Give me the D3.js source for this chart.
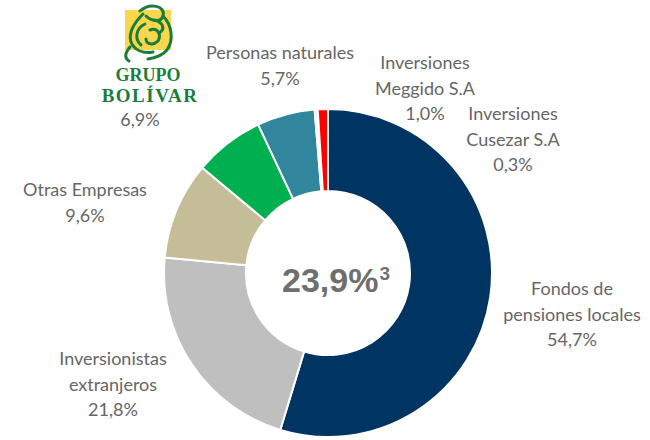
<!DOCTYPE html>
<meta charset="utf-8">
<html>
  <head>
    <title>Accionistas</title>
    <script src="https://d3js.org/d3.v7.min.js"></script>
    <style>
      body { margin: 0; background: #fff; }
      .lbl { font-family: Lato, "Open Sans", sans-serif; font-size: 18px; fill: #666; }
    </style>
  </head>
  <body>
    <div id="chart"></div>
    <script type="text/javascript">

        // shareholders, clockwise from 12 o'clock
        var holders = ["Fondos de pensiones locales", "Inversionistas extranjeros", "Otras Empresas",
                       "Grupo Bolívar", "Personas naturales", "Inversiones Cusezar S.A", "Inversiones Meggido S.A"];
        var shares = [54.7, 21.8, 9.6, 6.9, 5.7, 0.3, 1.0];
        var shareText = ["54,7%", "21,8%", "9,6%", "6,9%", "5,7%", "0,3%", "1,0%"];
        var labelLines = [["Fondos de", "pensiones locales"], ["Inversionistas", "extranjeros"], ["Otras Empresas"],
                          [], ["Personas naturales"], ["Inversiones", "Cusezar S.A"], ["Inversiones", "Meggido S.A"]];
        var centerText = "23,9%";

        var colors = ["#003462", "#bfbfbf", "#c4bd97", "#00b050", "#31859c", "#eef2f7", "#ff0000"];

        var width = 650, height = 440,
            cx = 328, cy = 273,
            r_out = 164, r_in = 82,
            line_h = 25.5;

        // where each label block starts (first baseline), text centred
        var label_pos = [[572, 295], [113, 365], [85, 196], [140, 126], [280, 59], [513, 120], [425, 69]];

        var svg = d3.select("#chart").append("svg")
            .attr("width", width)
            .attr("height", height);

        var color_scale = d3.scaleOrdinal().domain(holders).range(colors);

        var pie = d3.pie()
            .value(function(d){ return d.v; })
            .sort(null);

        var arc = d3.arc()
            .innerRadius(r_in)
            .outerRadius(r_out);

        var data = holders.map(function(h, i){ return {name: h, v: shares[i], i: i}; });

        var g = svg.append("g")
            .attr("transform", "translate(" + cx + "," + cy + ")");

        g.selectAll("path")
            .data(pie(data))
            .enter().append("path")
            .attr("d", arc)
            .attr("fill", function(d){ return color_scale(d.data.name); })
            .attr("stroke", "#fff")
            .attr("stroke-width", 2)
            .attr("stroke-linejoin", "round");

        // centre figure
        var ct = g.append("text")
            .attr("text-anchor", "middle")
            .attr("y", 19)
            .attr("x", 8)
            .style("font-family", "'Liberation Sans', Arial, sans-serif")
            .style("font-weight", "bold")
            .style("font-size", "34px")
            .style("fill", "#6f6f6f");
        ct.append("tspan").text(centerText);
        ct.append("tspan").attr("dx", 1).attr("dy", -12).style("font-size", "19px").text("3");

        // labels
        data.forEach(function(d, i){
            var lines = labelLines[i].concat([shareText[i]]);
            var t = svg.append("text")
                .attr("class", "lbl")
                .attr("text-anchor", "middle")
                .attr("x", label_pos[i][0])
                .attr("y", label_pos[i][1]);
            lines.forEach(function(s, j){
                t.append("tspan")
                    .attr("x", label_pos[i][0])
                    .attr("dy", j == 0 ? 0 : line_h)
                    .text(s);
            });
        });

        // Grupo Bolivar logo
        var logo = svg.append("g").attr("transform", "translate(148,0)");
        logo.append("rect")
            .attr("x", -23).attr("y", 10)
            .attr("width", 46).attr("height", 40)
            .attr("fill", "#f8d64e");
        var green = "#1b7d3a";
        var strokes = [
            "M-8,11 C2,2 18,6 15,16 C13,23 3,21 -2,16",
            "M-5,14 C-13,22 -20,32 -17,42 C-14,50 -5,54 5,52",
            "M15,16 C24,25 26,40 19,50 C14,56 7,58 0,59",
            "M-3,24 C-12,28 -14,39 -7,45",
            "M2,30 C9,27 14,34 10,41 C5,46 -2,44 -2,39",
            "M-18,47 C-23,53 -24,58 -19,61",
            "M6,20 C15,22 18,29 11,33"
        ];
        logo.selectAll("path.fig")
            .data(strokes)
            .enter().append("path")
            .attr("d", function(d){ return d; })
            .attr("fill", "none")
            .attr("stroke", green)
            .attr("stroke-width", 3)
            .attr("stroke-linecap", "round");
        logo.append("text")
            .attr("text-anchor", "middle")
            .attr("y", 81)
            .style("font-family", "'Liberation Serif', 'DejaVu Serif', serif")
            .style("font-weight", "bold")
            .style("font-size", "18px")
            .style("fill", green)
            .text("GRUPO");
        logo.append("text")
            .attr("text-anchor", "middle")
            .attr("x", 2)
            .attr("y", 102)
            .style("font-family", "'Liberation Serif', 'DejaVu Serif', serif")
            .style("font-weight", "bold")
            .style("font-size", "19px")
            .style("letter-spacing", "1.5px")
            .style("fill", green)
            .text("BOLÍVAR");
    </script>
  </body>
</html>
